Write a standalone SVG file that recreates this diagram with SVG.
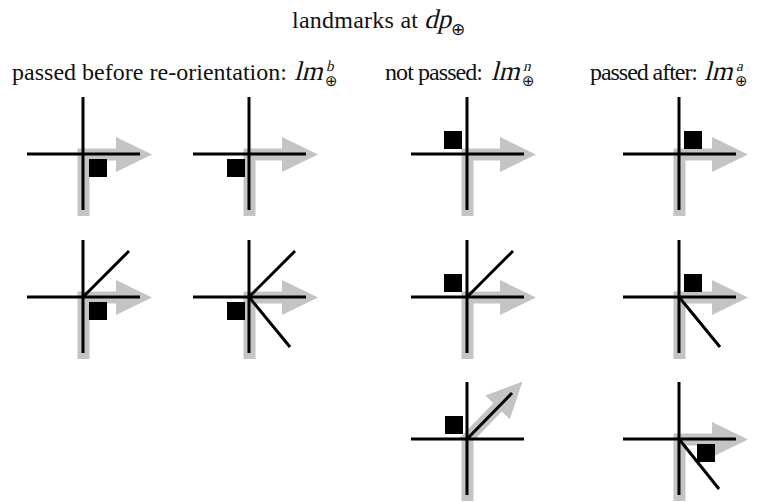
<svg xmlns="http://www.w3.org/2000/svg" xmlns:xlink="http://www.w3.org/1999/xlink" width="768" height="502" viewBox="0 0 768 502">
<style>
text{font-family:"Liberation Serif","Times New Roman",serif;fill:#111;}
.hd{font-size:24px;}
.it{font-size:27px;}
.sup{font-size:15px;}
.op{font-family:"DejaVu Sans",sans-serif;font-size:15px;}
.gray{fill:none;stroke:#c4c4c4;stroke-width:12;stroke-linejoin:miter;}
.gh{fill:#c4c4c4;}
.bl{stroke:#000;stroke-width:3;fill:none;stroke-linecap:butt;}
.sq{fill:#000;}
</style>
<defs>
<g id="base">
<path class="gray" d="M0.5,62 V0.5 H35"/>
<polygon class="gh" points="33,-17 69,0.5 33,18"/>
<line class="bl" x1="0" y1="-57" x2="0" y2="56"/>
<line class="bl" x1="-56" y1="0" x2="57" y2="0"/>
</g>
<g id="base2">
<path class="gray" d="M0.5,62 V0.5"/>
<g transform="rotate(-46)">
<path class="gray" d="M-4,0 H46"/>
<polygon class="gh" points="44,-17 80,0 44,17"/>
</g>
<line class="bl" x1="0" y1="-57" x2="0" y2="56"/>
<line class="bl" x1="-56" y1="0" x2="57" y2="0"/>
</g>
<line id="up" class="bl" x1="0" y1="0" x2="46" y2="-46"/>
<line id="dn" class="bl" x1="0" y1="0" x2="41" y2="50"/>
<rect id="sq" class="sq" width="18" height="18"/>
</defs>

<g id="title">
<text class="hd" x="292" y="28" textLength="126" lengthAdjust="spacing">landmarks at</text>
<text class="it" transform="translate(424,28) skewX(-14)">dp</text>
<text class="op" x="451" y="35" style="font-size:17px">⊕</text>
</g>
<g id="headers">
<text class="hd" x="12" y="80" textLength="275" lengthAdjust="spacing">passed before re-orientation:</text>
<text class="it" transform="translate(294,80) skewX(-14)">lm</text>
<text class="sup" transform="translate(326,71) skewX(-14)">b</text>
<text class="op" x="325" y="86">⊕</text>

<text class="hd" x="385" y="80" textLength="98" lengthAdjust="spacing">not passed:</text>
<text class="it" transform="translate(491,80) skewX(-14)">lm</text>
<text class="sup" transform="translate(523,71) skewX(-14)">n</text>
<text class="op" x="522" y="86">⊕</text>

<text class="hd" x="590" y="80" textLength="108" lengthAdjust="spacing">passed after:</text>
<text class="it" transform="translate(704,80) skewX(-14)">lm</text>
<text class="sup" transform="translate(736,71) skewX(-14)">a</text>
<text class="op" x="735" y="86">⊕</text>
</g>

<g id="icon-b1" transform="translate(83,154)"><use xlink:href="#base"/><use xlink:href="#sq" x="6" y="5"/></g>
<g id="icon-b2" transform="translate(249,154)"><use xlink:href="#base"/><use xlink:href="#sq" x="-22" y="5"/></g>
<g id="icon-n1" transform="translate(467,154)"><use xlink:href="#base"/><use xlink:href="#sq" x="-23" y="-23"/></g>
<g id="icon-a1" transform="translate(679,154)"><use xlink:href="#base"/><use xlink:href="#sq" x="5" y="-23"/></g>

<g id="icon-b3" transform="translate(83,297)"><use xlink:href="#base"/><use xlink:href="#up"/><use xlink:href="#sq" x="6" y="5"/></g>
<g id="icon-b4" transform="translate(249,297)"><use xlink:href="#base"/><use xlink:href="#up"/><use xlink:href="#dn"/><use xlink:href="#sq" x="-22" y="5"/></g>
<g id="icon-n2" transform="translate(467,297)"><use xlink:href="#base"/><use xlink:href="#up"/><use xlink:href="#sq" x="-23" y="-23"/></g>
<g id="icon-a2" transform="translate(679,297)"><use xlink:href="#base"/><use xlink:href="#dn"/><use xlink:href="#sq" x="5" y="-23"/></g>

<g id="icon-n3" transform="translate(467,439)"><use xlink:href="#base2"/><line class="bl" x1="0" y1="0" x2="45" y2="-46"/><use xlink:href="#sq" x="-22" y="-23"/></g>
<g id="icon-a3" transform="translate(679,439)"><use xlink:href="#base"/><line class="bl" x1="0" y1="0" x2="40" y2="50"/><use xlink:href="#sq" x="18" y="5"/></g>

<g id="connectors"/>
</svg>
